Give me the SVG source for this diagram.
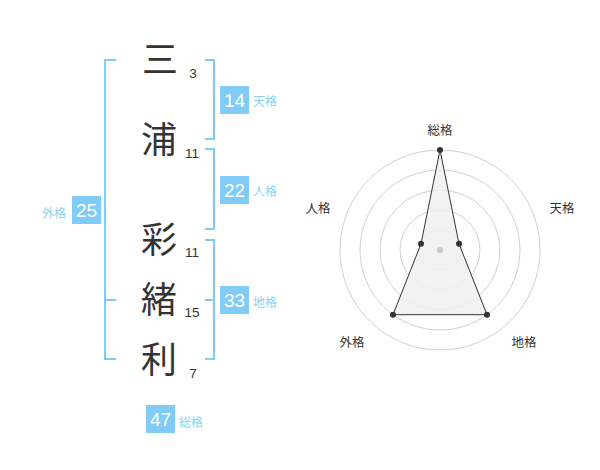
<svg xmlns="http://www.w3.org/2000/svg" width="600" height="470" viewBox="0 0 600 470">
<style>
.ch{font-family:"Noto Sans CJK JP","Noto Sans CJK SC",sans-serif;font-size:36px;fill:#333;text-anchor:middle}
.num{font-family:"Liberation Sans",Arial,sans-serif;font-size:13.5px;fill:#333;text-anchor:middle}
.box{fill:#80ccf7}
.bt{font-family:"Liberation Sans",Arial,sans-serif;font-size:19px;fill:#fff;text-anchor:middle}
.lb{font-family:"Noto Sans CJK JP","Noto Sans CJK SC",sans-serif;font-size:12px;fill:#8ccff3}
.br{fill:none;stroke:#80ccf7;stroke-width:2}
.ring{fill:none;stroke:#d0d0d0;stroke-width:1}
.rl{font-family:"Noto Sans CJK JP","Noto Sans CJK SC",sans-serif;font-size:12.5px;fill:#333;text-anchor:middle}
.pt{fill:#333}
</style>
<rect width="600" height="470" fill="#fff"/>
<g id="chars">
<text class="ch" x="160" y="73">三</text>
<text class="ch" x="159" y="153">浦</text>
<text class="ch" x="159" y="253">彩</text>
<text class="ch" x="159" y="313">緒</text>
<text class="ch" x="159" y="373">利</text>
<text class="num" x="193" y="78">3</text>
<text class="num" x="192" y="158">11</text>
<text class="num" x="192" y="257">11</text>
<text class="num" x="192" y="317">15</text>
<text class="num" x="193" y="378">7</text>
</g>
<g id="connectors">
<path class="br" d="M116,60 H105 V359 H116 M105,300 H116"/>
<path class="br" d="M205,60 H214 V139 H205"/>
<path class="br" d="M205,149 H214 V229 H205"/>
<path class="br" d="M205,240 H214 V359 H205 M205,300 H214"/>
</g>
<g id="tenkaku">
<rect class="box" x="220" y="86" width="29" height="28"/>
<text class="bt" x="234.5" y="107">14</text>
<text class="lb" x="253" y="106">天格</text>
</g>
<g id="jinkaku">
<rect class="box" x="220" y="176" width="29" height="28"/>
<text class="bt" x="234.5" y="197">22</text>
<text class="lb" x="253" y="196">人格</text>
</g>
<g id="chikaku">
<rect class="box" x="220" y="286" width="29" height="28"/>
<text class="bt" x="234.5" y="307">33</text>
<text class="lb" x="253" y="307">地格</text>
</g>
<g id="gaikaku">
<rect class="box" x="72" y="196" width="29" height="28"/>
<text class="bt" x="86.5" y="217">25</text>
<text class="lb" x="66" y="218" text-anchor="end">外格</text>
</g>
<g id="soukaku">
<rect class="box" x="146" y="405" width="29" height="28"/>
<text class="bt" x="160.5" y="426">47</text>
<text class="lb" x="179" y="427">総格</text>
</g>
<g id="radar">
<circle class="ring" cx="440" cy="250" r="20"/>
<circle class="ring" cx="440" cy="250" r="40"/>
<circle class="ring" cx="440" cy="250" r="60"/>
<circle class="ring" cx="440" cy="250" r="80"/>
<circle class="ring" cx="440" cy="250" r="100"/>
<polygon points="440,150 459,243.8 487,314.7 393,314.7 421,243.8" fill="#f0f0f0" fill-opacity="0.85" stroke="#333" stroke-width="1"/>
<circle cx="440" cy="250" r="3" fill="#c8c8c8"/>
<circle class="pt" cx="440" cy="150" r="3"/>
<circle class="pt" cx="459" cy="243.8" r="3"/>
<circle class="pt" cx="487" cy="314.7" r="3"/>
<circle class="pt" cx="393" cy="314.7" r="3"/>
<circle class="pt" cx="421" cy="243.8" r="3"/>
<text class="rl" x="440" y="135">総格</text>
<text class="rl" x="562" y="213">天格</text>
<text class="rl" x="318" y="213">人格</text>
<text class="rl" x="352" y="347">外格</text>
<text class="rl" x="524" y="347">地格</text>
</g>
</svg>
